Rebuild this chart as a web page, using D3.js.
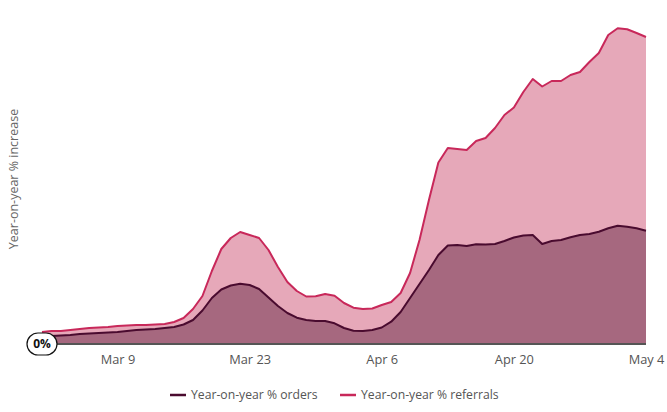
<!DOCTYPE html>
<html>
<head>
<meta charset="utf-8">
<script src="https://cdn.jsdelivr.net/npm/d3@7"></script>
<style>
  html, body { margin: 0; padding: 0; background: #fff; }
  svg { display: block; font-family: "Open Sans", sans-serif; }
</style>
</head>
<body>
<svg id="chart" width="667" height="412"></svg>
<script>
// ---- Data (daily, starting 1 Mar 2020) ----
const startDate = "2020-03-01";
const ordersValues = [8, 8, 8.5, 9, 10, 10.5, 11, 11.5, 12, 13, 14, 14.5, 15, 16, 17, 19.5, 24, 33.5, 46, 54.5,
  58.5, 60.3, 59, 55, 46.5, 38, 31, 26.3, 24, 23, 23, 20.7, 16, 13.3, 13, 14, 16.5, 22.3, 32, 46,
  60, 74, 89, 98.5, 99, 98, 99.7, 99.5, 100, 103, 106.5, 108.5, 109, 100, 103, 104, 106.7, 109, 110, 112.3,
  115.7, 118.3, 117.3, 115.7, 113.3];
const referralsValues = [12, 13, 13, 14, 15, 16, 16.5, 17, 18, 18.5, 19, 19, 19.5, 20, 22, 26, 35, 48, 73, 95,
  106, 112, 109, 106, 94, 77, 62, 53, 47.5, 47.7, 50, 48.3, 41, 36.3, 35, 35.5, 39, 42, 51, 71,
  104, 144, 181.5, 196, 195, 194, 203, 206, 216, 229, 236.5, 252, 265, 257.5, 263, 263, 269, 272, 282, 291,
  309, 315.7, 314.7, 311, 307];
const tickDates = ["2020-03-09", "2020-03-23", "2020-04-06", "2020-04-20", "2020-05-04"];
const tickLabels = ["Mar 9", "Mar 23", "Apr 6", "Apr 20", "May 4"];
const seriesNames = ["Year-on-year % orders", "Year-on-year % referrals"];
const yAxisTitle = "Year-on-year % increase";
const zeroLabel = "0%";

const parse = d3.utcParse("%Y-%m-%d");
const start = parse(startDate);
const dates = ordersValues.map((_, i) => d3.utcDay.offset(start, i));
const rows = dates.map((d, i) => ({ date: d, orders: ordersValues[i], referrals: referralsValues[i] }));

const svg = d3.select("#chart");
const x = d3.scaleUtc().domain([dates[0], dates[dates.length - 1]]).range([42, 646]);
const y = d3.scaleLinear().domain([0, 330]).range([344, 14]);

const colors = {
  refFill: "#e6a8b9", refLine: "#c8285a",
  ordFill: "#a6687f", ordLine: "#4a0b2f"
};

const areaGen = key => d3.area().x(d => x(d.date)).y0(y(0)).y1(d => y(d[key]));
const lineGen = key => d3.line().x(d => x(d.date)).y(d => y(d[key]));

svg.append("path").datum(rows).attr("d", areaGen("referrals")).attr("fill", colors.refFill);
svg.append("path").datum(rows).attr("d", areaGen("orders")).attr("fill", colors.ordFill);
svg.append("path").datum(rows).attr("d", lineGen("referrals"))
  .attr("fill", "none").attr("stroke", colors.refLine).attr("stroke-width", 2).attr("stroke-linejoin", "round");
svg.append("path").datum(rows).attr("d", lineGen("orders"))
  .attr("fill", "none").attr("stroke", colors.ordLine).attr("stroke-width", 2).attr("stroke-linejoin", "round");

// baseline
svg.append("line").attr("x1", x.range()[0]).attr("x2", x.range()[1])
  .attr("y1", y(0)).attr("y2", y(0)).attr("stroke", "#555").attr("stroke-width", 2);

// x axis labels
const xAxis = d3.axisBottom(x)
  .tickValues(tickDates.map(parse))
  .tickFormat((d, i) => tickLabels[i])
  .tickSize(0).tickPadding(10);
const gx = svg.append("g").attr("transform", `translate(0,${y(0) + 1})`).call(xAxis);
gx.select(".domain").remove();
gx.selectAll("text").attr("font-size", 12.8).attr("fill", "#555").attr("font-family", "Open Sans, sans-serif");

// y axis title
svg.append("text")
  .attr("transform", `translate(18,${y(0) - 165}) rotate(-90)`)
  .attr("text-anchor", "middle")
  .attr("font-size", 12.5).attr("fill", "#666")
  .text(yAxisTitle);

// zero label bubble
const zg = svg.append("g").attr("transform", `translate(${x.range()[0]},${y(0)})`);
zg.append("rect").attr("x", -15).attr("y", -11).attr("width", 30).attr("height", 22)
  .attr("rx", 11).attr("ry", 11).attr("fill", "#fff").attr("stroke", "#111").attr("stroke-width", 1.2);
zg.append("text").attr("text-anchor", "middle").attr("dy", "0.35em")
  .attr("font-size", 12).attr("font-weight", "bold").attr("fill", "#111").text(zeroLabel);

// legend
const legendItems = [
  { name: seriesNames[0], color: colors.ordLine, x: 170 },
  { name: seriesNames[1], color: colors.refLine, x: 340 }
];
const lg = svg.append("g").attr("transform", "translate(0,395)");
legendItems.forEach(it => {
  lg.append("line").attr("x1", it.x).attr("x2", it.x + 16).attr("y1", 0).attr("y2", 0)
    .attr("stroke", it.color).attr("stroke-width", 2.5);
  lg.append("text").attr("x", it.x + 21).attr("dy", "0.35em")
    .attr("font-size", 12.2).attr("fill", "#555").text(it.name);
});
</script>
</body>
</html>
